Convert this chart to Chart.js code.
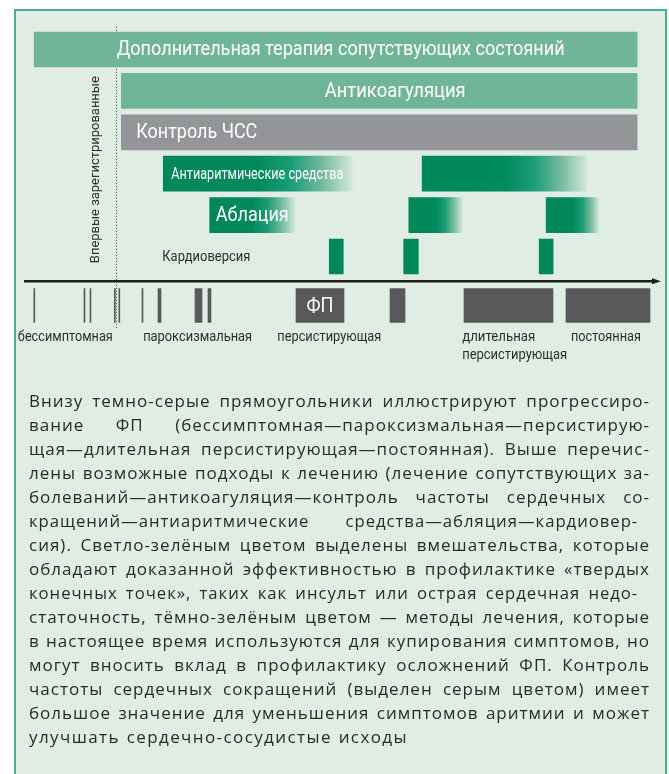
<!DOCTYPE html>
<html>
<head>
<meta charset="utf-8">
<script src="https://cdn.jsdelivr.net/npm/chart.js@4.4.1/dist/chart.umd.min.js"></script>
<style>
  html, body { margin: 0; padding: 0; background: #ffffff; width: 669px; height: 774px; overflow: hidden; }
  #panel { position: absolute; left: 14px; top: 9px; width: 653px; height: 800px; box-sizing: border-box;
           background: #e0ede4; border: 2px solid #4caf85; }
  #c { position: absolute; left: 0; top: 0; }
  #note { position: absolute; left: 29px; top: 389px; width: 621px; font-family: "Open Sans", "Noto Sans", sans-serif;
          font-size: 17px; line-height: 24px; color: #2a2a2a; letter-spacing: 1px; }
  #note .ln { text-align: justify; text-align-last: justify; }
  #note .tight { transform: scaleX(0.981); transform-origin: 0 50%; }
  #note .last { text-align: left; text-align-last: left; letter-spacing: 1.4px; word-spacing: 1px; }
</style>
</head>
<body>
<div id="panel"></div>
<canvas id="c" width="669" height="774"></canvas>
<div id="note"></div>
<script>
// ---------- data ----------
const rows = [
  'Дополнительная терапия сопутствующих состояний',
  'Антикоагуляция',
  'Контроль ЧСС',
  'Антиаритмические средства',
  'Аблация',
  'Кардиоверсия'
];
// treatment periods along the disease timeline (0..100)
const comorbidityTherapy = [[1.6, 96.4]];
const anticoagulation    = [[15.3, 96.4]];
const rateControl        = [[15.3, 96.4]];
const antiarrhythmics    = [[21.9, 51.6], [62.6, 88.5]];
const ablation           = [[29.2, 42.6], [60.5, 68.9], [82.1, 90.4]];
const cardioversion      = [[48.0, 50.2], [59.7, 62.0], [81.0, 83.2]];
// AF episodes on the timeline
const afStageRow = 'Течение ФП';
const afEpisodes = [
  [1.54, 1.70], [9.43, 9.59], [10.38, 10.53], [14.20, 14.36], [14.91, 15.06], [18.55, 18.71],
  [21.07, 21.54], [26.89, 27.99], [28.93, 29.40], [42.77, 50.31], [57.55, 59.91], [69.18, 83.18], [85.22, 98.43]
];
const afEpisodeLabel = 'ФП';
const stageNames = ['бессимптомная', 'пароксизмальная', 'персистирующая', 'длительная|персистирующая', 'постоянная'];
const stageAnchors = [6.5, 27.3, 48.0, 68.9, 91.5];
const firstDiagnosed = 14.54;
const firstDiagnosedLabel = 'Впервые зарегистрированные';

const noteLines = [
  'Внизу темно-серые прямоугольники иллюстрируют прогрессиро-',
  'вание ФП (бессимптомная—пароксизмальная—персистирую-',
  'щая—длительная персистирующая—постоянная). Выше перечис-',
  'лены возможные подходы к лечению (лечение сопутствующих за-',
  'болеваний—антикоагуляция—контроль частоты сердечных со-',
  'кращений—антиаритмические средства—абляция—кардиовер-',
  'сия). Светло-зелёным цветом выделены вмешательства, которые',
  'обладают доказанной эффективностью в профилактике «твердых',
  'конечных точек», таких как инсульт или острая сердечная недо-',
  'статочность, тёмно-зелёным цветом — методы лечения, которые',
  'в настоящее время используются для купирования симптомов, но',
  'могут вносить вклад в профилактику осложнений ФП. Контроль',
  'частоты сердечных сокращений (выделен серым цветом) имеет',
  'большое значение для уменьшения симптомов аритмии и может',
  'улучшать сердечно-сосудистые исходы'
];
// lines set slightly tighter (typographic style)
const tightLines = [5, 8];

// ---------- paragraph (justified line by line) ----------
const note = document.getElementById('note');
noteLines.forEach((t, i) => {
  const d = document.createElement('div');
  d.className = i === noteLines.length - 1 ? 'last' : 'ln';
  if (tightLines.includes(i)) d.className += ' tight';
  d.textContent = t;
  note.appendChild(d);
});

// ---------- styles ----------
const FONT = 'Roboto, "Liberation Sans", sans-serif';
const LIGHT = '#71b598', GRAY = '#939598', DARK = '#00885a', STAGE = '#58595b';

function fadeGradient(context) {
  const chart = context.chart;
  const xs = chart.scales.x;
  const raw = context.raw;
  if (!xs || !raw || !Array.isArray(raw.x)) return DARK;
  const x0 = xs.getPixelForValue(raw.x[0]);
  const x1 = xs.getPixelForValue(raw.x[1]);
  if (!isFinite(x0) || !isFinite(x1)) return DARK;
  const g = chart.ctx.createLinearGradient(x0, 0, x1, 0);
  g.addColorStop(0, '#00875a');
  g.addColorStop(0.5, '#018a5c');
  g.addColorStop(0.68, '#1c9d77');
  g.addColorStop(0.84, '#74b99d');
  g.addColorStop(1, '#d3e8dc');
  return g;
}

const series = [comorbidityTherapy, anticoagulation, rateControl, antiarrhythmics, ablation, cardioversion];
const fills = [LIGHT, LIGHT, GRAY, fadeGradient, fadeGradient, DARK];

const datasets = series.map((segs, i) => ({
  label: rows[i],
  data: segs.map(s => ({ y: rows[i], x: s })),
  backgroundColor: fills[i],
  borderWidth: 0,
  borderSkipped: false,
  barThickness: 35,
  grouped: false,
  yAxisID: 'y'
}));
datasets.push({
  label: afStageRow,
  data: afEpisodes.map(s => ({ y: afStageRow, x: s })),
  backgroundColor: STAGE,
  borderWidth: 0,
  borderSkipped: false,
  barThickness: 34,
  grouped: false,
  yAxisID: 'yStage'
});

// typographic styles: font size and set width (condensed type)
const barLabelStyle = {
  0: { align: 'center', dx: 5, size: 19.5, width: 448 },
  1: { align: 'center', dx: 16, size: 19.5, width: 141 },
  2: { align: 'left', dx: 15, size: 19.5, width: 121 },
  3: { align: 'left', dx: 8, size: 16, width: 172 },
  4: { align: 'left', dx: 6, size: 20, width: 73 }
};
const cardioLabelStyle = { size: 15, width: 88 };
const stageLabelStyle = { size: 14.5, widths: [[95], [109], [104], [73, 105], [70]] };
const episodeLabelStyle = { size: 21, width: 27 };
const verticalLabelStyle = { size: 13.5, width: 187 };

function fitText(ctx, text, x, y, align, width) {
  const w = ctx.measureText(text).width || 1;
  ctx.save();
  ctx.translate(x, y);
  ctx.scale(width / w, 1);
  ctx.textAlign = align;
  ctx.fillText(text, 0, 0);
  ctx.restore();
}

const diagramPlugin = {
  id: 'diagram',
  beforeDatasetsDraw(chart) {
    const { ctx, scales: { x, y, yStage } } = chart;
    const px = Math.round(x.getPixelForValue(firstDiagnosed)) + 0.5;
    ctx.save();
    ctx.strokeStyle = '#3c3c3c';
    ctx.lineWidth = 1;
    ctx.setLineDash([1, 2]);
    ctx.beginPath();
    ctx.moveTo(px, y.top - 2);
    ctx.lineTo(px, yStage.bottom - 4);
    ctx.stroke();
    ctx.restore();
  },
  afterDatasetsDraw(chart) {
    const { ctx, scales: { x, y, yStage } } = chart;
    ctx.save();
    ctx.textBaseline = 'middle';
    // bar labels
    ctx.fillStyle = '#ffffff';
    Object.keys(barLabelStyle).forEach(k => {
      const i = +k, st = barLabelStyle[k];
      const el = chart.getDatasetMeta(i).data[0];
      if (!el) return;
      ctx.font = st.size + 'px ' + FONT;
      const left = Math.min(el.x, el.base), right = Math.max(el.x, el.base);
      if (st.align === 'center') fitText(ctx, rows[i], (left + right) / 2 + st.dx, el.y + 1, 'center', st.width);
      else fitText(ctx, rows[i], left + st.dx, el.y + 1, 'left', st.width);
    });
    // cardioversion row label (outside the bars)
    ctx.fillStyle = '#2e2e2e';
    ctx.font = cardioLabelStyle.size + 'px ' + FONT;
    fitText(ctx, rows[5], x.getPixelForValue(antiarrhythmics[0][0]) - 1, y.getPixelForValue(5) + 1, 'left', cardioLabelStyle.width);

    // vertical label of first diagnosis
    const px = x.getPixelForValue(firstDiagnosed);
    ctx.save();
    ctx.translate(px - 20.5, y.bottom - 14);
    ctx.rotate(-Math.PI / 2);
    ctx.font = verticalLabelStyle.size + 'px ' + FONT;
    ctx.fillStyle = '#2e2e2e';
    fitText(ctx, firstDiagnosedLabel, 0, 0, 'left', verticalLabelStyle.width);
    ctx.restore();

    // timeline arrow
    const ay = yStage.top + 4;
    const xa = x.getPixelForValue(0), xb = x.getPixelForValue(100);
    ctx.strokeStyle = '#1e1c1c';
    ctx.lineWidth = 2.4;
    ctx.beginPath();
    ctx.moveTo(xa, ay);
    ctx.lineTo(xb - 6, ay);
    ctx.stroke();
    ctx.fillStyle = '#1e1c1c';
    ctx.beginPath();
    ctx.moveTo(xb + 1, ay);
    ctx.lineTo(xb - 8, ay - 3);
    ctx.lineTo(xb - 8, ay + 3);
    ctx.closePath();
    ctx.fill();

    // "ФП" inside the persistent episode
    const meta = chart.getDatasetMeta(6);
    const big = meta.data[9];
    if (big) {
      ctx.fillStyle = '#ffffff';
      ctx.font = episodeLabelStyle.size + 'px ' + FONT;
      fitText(ctx, afEpisodeLabel, (big.x + big.base) / 2, big.y + 1, 'center', episodeLabelStyle.width);
    }

    // stage names
    const stripBottom = big ? big.y + big.height / 2 : yStage.bottom - 11;
    ctx.fillStyle = '#2e2e2e';
    ctx.font = stageLabelStyle.size + 'px ' + FONT;
    stageNames.forEach((name, i) => {
      const parts = name.split('|');
      const ax = x.getPixelForValue(stageAnchors[i]);
      const align = parts.length > 1 ? 'left' : 'center';
      parts.forEach((p, j) => fitText(ctx, p, ax, stripBottom + 15 + j * 18, align, stageLabelStyle.widths[i][j]));
    });
    ctx.restore();
  }
};

new Chart(document.getElementById('c'), {
  type: 'bar',
  data: { datasets },
  options: {
    indexAxis: 'y',
    responsive: false,
    animation: false,
    devicePixelRatio: 1,
    layout: { padding: { left: 24, right: 9, top: 28.8, bottom: 440.2 } },
    plugins: { legend: { display: false }, tooltip: { enabled: false } },
    scales: {
      x: { type: 'linear', min: 0, max: 100, display: false },
      yStage: { type: 'category', labels: [afStageRow], position: 'left', stack: 'rows', stackWeight: 56.6,
                offset: true, display: false },
      y: { type: 'category', labels: rows, position: 'left', stack: 'rows', stackWeight: 248.4,
           offset: true, display: false }
    }
  },
  plugins: [diagramPlugin]
});
</script>
</body>
</html>
